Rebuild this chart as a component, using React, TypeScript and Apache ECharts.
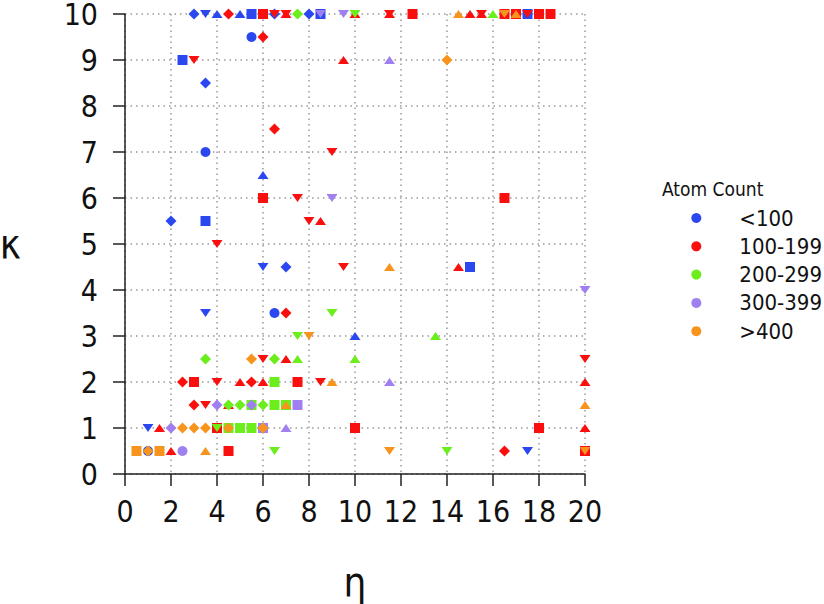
import React, { useEffect, useRef } from "react";
import * as echarts from "echarts";

type Pt = [number, number, string];

const groupNames = ["<100", "100-199", "200-299", "300-399", ">400"];
const groupColors = ["#2B48F0", "#FA0F0F", "#6BEE1C", "#A07FF0", "#F7941D"];

const xTicks = { min: 0, max: 20, interval: 2 };
const yTicks = { min: 0, max: 10, interval: 1 };

// o circle, s square, d diamond, t triangle, v inverted triangle
const bluePts: Pt[] = [
  [3, 10, "d"], [3.5, 10, "v"], [4, 10, "t"], [5, 10, "t"], [5.5, 10, "s"], [6.5, 10, "d"],
  [8, 10, "d"], [8.5, 10, "s"], [17.5, 10, "s"],
  [5.5, 9.5, "o"], [2.5, 9, "s"], [3.5, 8.5, "d"], [3.5, 7, "o"], [6, 6.5, "t"],
  [2, 5.5, "d"], [3.5, 5.5, "s"], [6, 4.5, "v"], [7, 4.5, "d"], [15, 4.5, "s"],
  [3.5, 3.5, "v"], [6.5, 3.5, "o"], [10, 3, "t"], [1, 1, "v"], [1, 0.5, "o"], [17.5, 0.5, "v"],
];

const redPts: Pt[] = [
  [4.5, 10, "d"], [6, 10, "s"], [6.5, 10, "v"], [7, 10, "t"], [7, 10, "v"], [10, 10, "t"],
  [11.5, 10, "t"], [11.5, 10, "v"], [12.5, 10, "s"], [15, 10, "t"], [15.5, 10, "t"], [15.5, 10, "v"],
  [16.5, 10, "s"], [17, 10, "s"], [17.5, 10, "v"], [18, 10, "s"], [18.5, 10, "s"],
  [6, 9.5, "d"], [3, 9, "v"], [9.5, 9, "t"], [6.5, 7.5, "d"], [9, 7, "v"], [6, 6, "s"],
  [7.5, 6, "v"], [16.5, 6, "s"], [8, 5.5, "v"], [8.5, 5.5, "t"], [4, 5, "v"], [9.5, 4.5, "v"],
  [14.5, 4.5, "t"], [7, 3.5, "d"], [6, 2.5, "v"], [7, 2.5, "t"], [20, 2.5, "v"],
  [2.5, 2, "d"], [3, 2, "s"], [4, 2, "v"], [5, 2, "t"], [5.5, 2, "d"], [6, 2, "t"], [7.5, 2, "s"],
  [8.5, 2, "v"], [20, 2, "t"], [3, 1.5, "d"], [3.5, 1.5, "v"], [4.5, 1.5, "t"],
  [1.5, 1, "t"], [4, 1, "s"], [10, 1, "s"], [18, 1, "s"], [20, 1, "t"],
  [2, 0.5, "t"], [4.5, 0.5, "s"], [16.5, 0.5, "d"], [20, 0.5, "s"],
];

const greenPts: Pt[] = [
  [7.5, 10, "d"], [10, 10, "v"], [16, 10, "t"], [9, 3.5, "v"], [7.5, 3, "v"], [13.5, 3, "t"],
  [3.5, 2.5, "d"], [6.5, 2.5, "d"], [7.5, 2.5, "t"], [10, 2.5, "t"], [6.5, 2, "s"],
  [4.5, 1.5, "d"], [5, 1.5, "d"], [5.5, 1.5, "s"], [6, 1.5, "d"], [6.5, 1.5, "s"], [7, 1.5, "s"],
  [4, 1, "v"], [4.5, 1, "s"], [5, 1, "s"], [5.5, 1, "s"], [6.5, 0.5, "v"], [14, 0.5, "v"],
];

const purplePts: Pt[] = [
  [8.5, 10, "v"], [9.5, 10, "v"], [11.5, 9, "t"], [9, 6, "v"], [20, 4, "v"], [11.5, 2, "t"],
  [4, 1.5, "d"], [5.5, 1.5, "d"], [7.5, 1.5, "s"], [2, 1, "d"], [6, 1, "s"], [7, 1, "t"],
  [2.5, 0.5, "o"],
];

const orangePts: Pt[] = [
  [14.5, 10, "t"], [16.5, 10, "v"], [17, 10, "t"], [14, 9, "d"], [11.5, 4.5, "t"], [8, 3, "v"],
  [5.5, 2.5, "d"], [9, 2, "t"], [7, 1.5, "t"], [20, 1.5, "t"],
  [2.5, 1, "d"], [3, 1, "d"], [3.5, 1, "d"], [4.5, 1, "d"], [6, 1, "d"],
  [0.5, 0.5, "s"], [1, 0.5, "d"], [1.5, 0.5, "s"], [3.5, 0.5, "t"], [11.5, 0.5, "v"], [20, 0.5, "v"],
];

const groups: Pt[][] = [bluePts, redPts, greenPts, purplePts, orangePts];

const FONT = "'DejaVu Sans Condensed', 'Liberation Sans', 'DejaVu Sans', sans-serif";

function toItem(p: Pt) {
  const [x, y, s] = p;
  if (s === "o") return { value: [x, y], symbol: "circle", symbolSize: 10 };
  if (s === "s") return { value: [x, y], symbol: "rect", symbolSize: 10 };
  if (s === "d") return { value: [x, y], symbol: "diamond", symbolSize: [11, 11] };
  if (s === "t") return { value: [x, y], symbol: "triangle", symbolSize: [11, 8] };
  return { value: [x, y], symbol: "triangle", symbolSize: [11, 8], symbolRotate: 180 };
}

export default function App() {
  const ref = useRef<HTMLDivElement>(null);
  useEffect(() => {
    if (!ref.current) return;
    const chart = echarts.init(ref.current, undefined, { renderer: "svg" });
    const axisLine = { show: true, lineStyle: { color: "#222", width: 1.5 } };
    const splitLine = {
      show: true,
      lineStyle: { color: "#999", width: 1.5, type: [1.5, 4] as number[] },
    };
    chart.setOption({
      animation: false,
      backgroundColor: "#fff",
      title: {
        text: "Atom Count",
        left: 662,
        top: 179,
        padding: 0,
        textStyle: { fontFamily: FONT, fontSize: 19, fontWeight: "normal", color: "#111" },
      },
      legend: {
        orient: "vertical",
        right: 2,
        top: 207,
        padding: 0,
        align: "left",
        itemWidth: 76,
        itemHeight: 10,
        itemGap: 6.3,
        icon: "circle",
        data: groupNames,
        textStyle: {
          fontFamily: FONT,
          fontSize: 22,
          color: "#111",
          lineHeight: 22,
          width: 82,
          overflow: "none",
        },
      },
      grid: {
        left: 125,
        top: 14,
        right: 239,
        bottom: 130,
        containLabel: false,
        outerBoundsMode: "none",
      },
      xAxis: {
        type: "value",
        min: xTicks.min,
        max: xTicks.max,
        interval: xTicks.interval,
        name: "η",
        nameLocation: "middle",
        nameGap: 88,
        nameTextStyle: { fontFamily: FONT, fontSize: 40, color: "#111" },
        axisLine,
        axisTick: { show: true, length: 12, inside: false, lineStyle: { color: "#222", width: 1.5 } },
        axisLabel: { margin: 25, fontFamily: FONT, fontSize: 30, color: "#111", lineHeight: 24 },
        splitLine,
      },
      yAxis: {
        type: "value",
        min: yTicks.min,
        max: yTicks.max,
        interval: yTicks.interval,
        name: "κ",
        nameLocation: "middle",
        nameRotate: 0,
        nameGap: 104,
        nameTextStyle: { fontFamily: FONT, fontSize: 40, color: "#111" },
        axisLine,
        axisTick: { show: true, length: 12, inside: false, lineStyle: { color: "#222", width: 1.5 } },
        axisLabel: { margin: 27, fontFamily: FONT, fontSize: 30, color: "#111", lineHeight: 24 },
        splitLine,
      },
      series: groups.map((g, i) => ({
        type: "scatter",
        name: groupNames[i],
        data: g.map(toItem),
        itemStyle: { color: groupColors[i], opacity: 1 },
        emphasis: { disabled: true },
      })),
    });
    return () => chart.dispose();
  }, []);
  return (
    <div
      ref={ref}
      style={{ position: "absolute", left: 0, top: 0, width: 824, height: 604 }}
    />
  );
}
